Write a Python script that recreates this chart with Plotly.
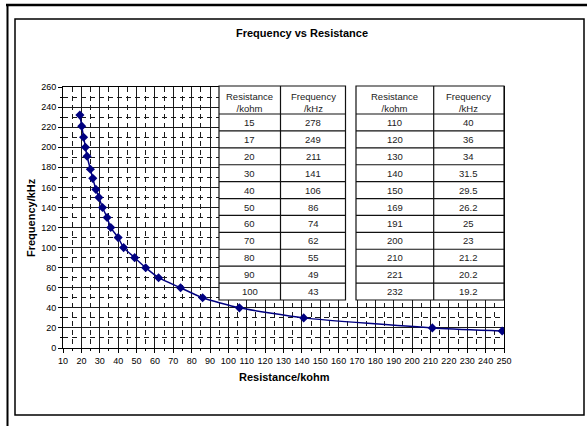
import plotly.graph_objects as go

# ---- data ----
plot_freq = [19.2, 20.2, 21.2, 22.2, 23.1, 24.9, 26.2, 27.9, 29.5, 31.5, 34, 36,
             40, 43, 49, 55, 62, 74, 86, 106, 141, 211, 249, 278]
plot_res = [232, 221, 210, 200, 191, 178, 169, 158, 150, 140, 130, 120,
            110, 100, 90, 80, 70, 60, 50, 40, 30, 20, 17, 15]

table1_res = ["15", "17", "20", "30", "40", "50", "60", "70", "80", "90", "100"]
table1_freq = ["278", "249", "211", "141", "106", "86", "74", "62", "55", "49", "43"]
table2_res = ["110", "120", "130", "140", "150", "169", "191", "200", "210", "221", "232"]
table2_freq = ["40", "36", "34", "31.5", "29.5", "26.2", "25", "23", "21.2", "20.2", "19.2"]
header_res = "Resistance<br>/kohm"
header_freq = "Frequency<br>/kHz"

title_text = "Frequency vs Resistance"
x_title = "Resistance/kohm"
y_title = "Frequency/kHz"

# ---- layout geometry (pixels) ----
W, H = 587, 426
ML, MR, MT, MB = 63, 83, 87, 78
PW = W - ML - MR
PH = H - MT - MB
FONT = "Liberation Sans, Arial, sans-serif"


def xp(px):
    return (px - ML) / PW


def yp(py):
    return (H - MB - py) / PH


fig = go.Figure()
fig.add_trace(go.Scatter(
    x=plot_freq, y=plot_res, mode="lines+markers",
    line=dict(color="#000080", width=1.5, shape="spline", smoothing=0.6),
    marker=dict(symbol="diamond", size=7, color="#000080"),
    showlegend=False, hoverinfo="skip",
))

shapes = []
annotations = []

# frame lines
shapes.append(dict(type="line", xref="paper", yref="paper", x0=xp(6), x1=xp(587), y0=yp(5), y1=yp(5),
                   line=dict(color="black", width=2.5), layer="above"))
shapes.append(dict(type="line", xref="paper", yref="paper", x0=xp(7.5), x1=xp(7.5), y0=yp(5), y1=yp(426),
                   line=dict(color="black", width=2), layer="above"))
shapes.append(dict(type="rect", xref="paper", yref="paper", x0=xp(15), x1=xp(584), y0=yp(19), y1=yp(415),
                   line=dict(color="black", width=1.5), fillcolor="rgba(0,0,0,0)", layer="below"))

# tables
table_top, header_bottom, table_bottom = 86, 114, 300
tables = [
    (219, 280.5, 345.5, table1_res, table1_freq),
    (356, 433.7, 504, table2_res, table2_freq),
]
nrows = len(table1_res)
row_h = (table_bottom - header_bottom) / nrows
line_style = dict(color="#111111", width=1.2)

# white backing behind both tables (covers the gap too)
shapes.append(dict(type="rect", xref="paper", yref="paper", x0=xp(tables[0][0]), x1=xp(tables[-1][2]),
                   y0=yp(table_top), y1=yp(table_bottom), fillcolor="white",
                   line=dict(width=0), layer="above"))

for x0, xm, x1, col_a, col_b in tables:
    shapes.append(dict(type="rect", xref="paper", yref="paper", x0=xp(x0), x1=xp(x1),
                       y0=yp(table_top), y1=yp(table_bottom), fillcolor="white",
                       line=line_style, layer="above"))
    shapes.append(dict(type="line", xref="paper", yref="paper", x0=xp(xm), x1=xp(xm),
                       y0=yp(table_top), y1=yp(table_bottom), line=line_style, layer="above"))
    for i in range(nrows):
        yline = header_bottom + i * row_h
        shapes.append(dict(type="line", xref="paper", yref="paper", x0=xp(x0), x1=xp(x1),
                           y0=yp(yline), y1=yp(yline), line=line_style, layer="above"))
    for cx, htxt in (((x0 + xm) / 2, header_res), ((xm + x1) / 2, header_freq)):
        annotations.append(dict(xref="paper", yref="paper", x=xp(cx), y=yp(102), text=htxt,
                                showarrow=False, xanchor="center", yanchor="middle",
                                font=dict(family=FONT, size=9.5, color="#222")))
    for i in range(nrows):
        cy = header_bottom + (i + 0.5) * row_h
        annotations.append(dict(xref="paper", yref="paper", x=xp((x0 + xm) / 2), y=yp(cy),
                                text=col_a[i], showarrow=False, xanchor="center", yanchor="middle",
                                font=dict(family=FONT, size=9.5, color="#222")))
        annotations.append(dict(xref="paper", yref="paper", x=xp((xm + x1) / 2), y=yp(cy),
                                text=col_b[i], showarrow=False, xanchor="center", yanchor="middle",
                                font=dict(family=FONT, size=9.5, color="#222")))

# titles
annotations.append(dict(xref="paper", yref="paper", x=xp(301.5), y=yp(33), text="<b>%s</b>" % title_text,
                        showarrow=False, xanchor="center", yanchor="middle",
                        font=dict(family=FONT, size=11, color="black")))
annotations.append(dict(xref="paper", yref="paper", x=xp(284), y=yp(377), text="<b>%s</b>" % x_title,
                        showarrow=False, xanchor="center", yanchor="middle",
                        font=dict(family=FONT, size=11, color="black")))
annotations.append(dict(xref="paper", yref="paper", x=xp(31), y=yp(218), text="<b>%s</b>" % y_title,
                        showarrow=False, xanchor="center", yanchor="middle", textangle=-90,
                        font=dict(family=FONT, size=11, color="black")))

grid_major = "#1a1a1a"
fig.update_layout(
    width=W, height=H,
    margin=dict(l=ML, r=MR, t=MT, b=MB, pad=0),
    paper_bgcolor="white", plot_bgcolor="white",
    shapes=shapes, annotations=annotations,
    font=dict(family=FONT, size=9, color="black"),
    xaxis=dict(range=[10, 250], tick0=10, dtick=10, showgrid=True, gridcolor=grid_major, gridwidth=1,
               showline=True, linecolor="black", linewidth=1, mirror=True,
               ticks="outside", ticklen=4, tickcolor="black", zeroline=False,
               tickfont=dict(family=FONT, size=9, color="black"),
               minor=dict(dtick=5, showgrid=True, gridcolor="#1a1a1a", griddash="5px,4px", gridwidth=1,
                          ticks="outside", ticklen=2, tickcolor="black")),
    yaxis=dict(range=[0, 260], tick0=0, dtick=20, showgrid=True, gridcolor=grid_major, gridwidth=1,
               showline=True, linecolor="black", linewidth=1, mirror=True,
               ticks="outside", ticklen=4, tickcolor="black", zeroline=False,
               tickfont=dict(family=FONT, size=9, color="black"),
               minor=dict(dtick=10, showgrid=True, gridcolor="#1a1a1a", griddash="5px,4px", gridwidth=1,
                          ticks="outside", ticklen=2, tickcolor="black")),
)

fig.write_html("out.html", config={"displayModeBar": False},
               post_script="document.body.style.margin='0';document.body.style.overflow='hidden';")
